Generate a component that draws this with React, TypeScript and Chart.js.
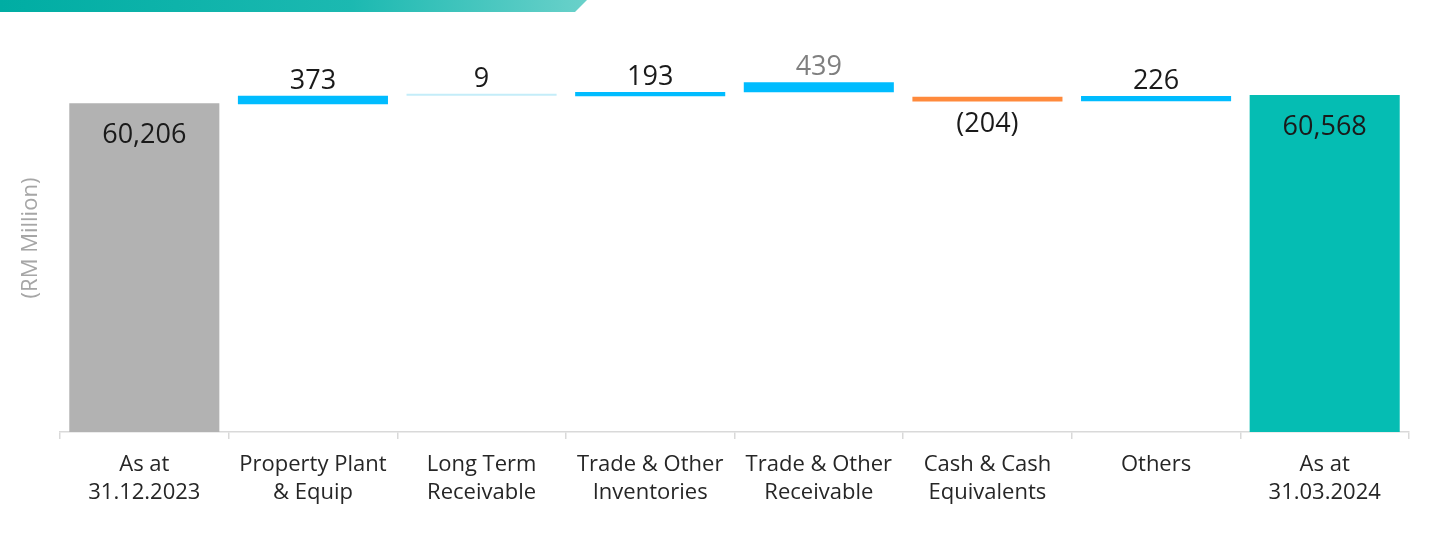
import React, { useEffect, useRef } from "react";
import { Chart, registerables } from "chart.js";

Chart.register(...registerables);

const categories: string[][] = [
  ["As at", "31.12.2023"],
  ["Property Plant", "& Equip"],
  ["Long Term", "Receivable"],
  ["Trade & Other", "Inventories"],
  ["Trade & Other", "Receivable"],
  ["Cash & Cash", "Equivalents"],
  ["Others"],
  ["As at", "31.03.2024"],
];

// floating bar ranges [low, high] in RM Million, as drawn in the picture
const barLow: number[] = [45870, 60165, 60530, 60510, 60684, 60288, 60300, 45870];
const barHigh: number[] = [60206, 60538, 60539, 60703, 61123, 60492, 60526, 60568];
const valueLabels: string[] = ["60,206", "373", "9", "193", "439", "(204)", "226", "60,568"];
const labelKind: string[] = ["inside", "above", "above", "above", "above", "below", "above", "inside"];
const barColors: string[] = ["#b2b2b2", "#00bcff", "#c4edf9", "#00bcff", "#00bcff", "#ff8a3c", "#00bcff", "#05bdb3"];
const labelColors: string[] = ["#1a1a1a", "#1a1a1a", "#1a1a1a", "#1a1a1a", "#7f7f7f", "#1a1a1a", "#1a1a1a", "#1a1a1a"];

const Y_MIN = 45870;
const Y_MAX = 62966;
const FONT = "'Open Sans', sans-serif";

const labelPlugin = {
  id: "valueLabels",
  afterDatasetsDraw(chart: any) {
    const ctx = chart.ctx;
    const meta = chart.getDatasetMeta(0);
    ctx.save();
    ctx.font = `27px ${FONT}`;
    ctx.textAlign = "center";
    meta.data.forEach((bar: any, i: number) => {
      const top = Math.min(bar.y, bar.base);
      const bottom = Math.max(bar.y, bar.base);
      ctx.fillStyle = labelColors[i];
      if (labelKind[i] === "inside") {
        ctx.textBaseline = "middle";
        ctx.fillText(valueLabels[i], bar.x, top + 32);
      } else if (labelKind[i] === "above") {
        ctx.textBaseline = "bottom";
        ctx.fillText(valueLabels[i], bar.x, top - 1);
      } else {
        ctx.textBaseline = "top";
        ctx.fillText(valueLabels[i], bar.x, bottom + 9);
      }
    });
    // y axis title
    ctx.fillStyle = "#a6a6a6";
    ctx.font = `22px ${FONT}`;
    ctx.textAlign = "center";
    ctx.textBaseline = "middle";
    ctx.translate(31, 238);
    ctx.rotate(-Math.PI / 2);
    ctx.fillText("(RM Million)", 0, 0);
    ctx.restore();
  },
};

export default function App() {
  const ref = useRef<HTMLCanvasElement>(null);
  useEffect(() => {
    document.body.style.margin = "0";
    const chart = new Chart(ref.current as HTMLCanvasElement, {
      type: "bar",
      data: {
        labels: categories,
        datasets: [
          {
            data: barLow.map((lo, i) => [lo, barHigh[i]]) as any,
            backgroundColor: barColors,
            borderWidth: 0,
            barPercentage: 0.89,
            categoryPercentage: 1,
            minBarLength: 2,
          },
        ],
      },
      options: {
        animation: false,
        responsive: false,
        maintainAspectRatio: false,
        layout: { padding: { left: 60, right: 31, top: 40, bottom: 0 } },
        plugins: { legend: { display: false }, tooltip: { enabled: false } },
        scales: {
          x: {
            grid: {
              offset: true,
              drawOnChartArea: false,
              drawTicks: true,
              tickLength: 7,
              color: "#d9d9d9",
              lineWidth: 1.5,
            },
            border: { color: "#d9d9d9", width: 1.5 },
            ticks: {
              color: "#262626",
              font: { family: FONT, size: 22, lineHeight: 1.25 },
              padding: 12,
              maxRotation: 0,
              autoSkip: false,
            },
            afterFit: (scale: any) => {
              scale.height = 112;
            },
          },
          y: {
            display: false,
            min: Y_MIN,
            max: Y_MAX,
          },
        },
      },
      plugins: [labelPlugin],
    });
    return () => chart.destroy();
  }, []);

  return (
    <div style={{ position: "relative", width: 1440, height: 544, background: "#fff" }}>
      <div
        style={{
          position: "absolute",
          left: 0,
          top: 0,
          width: 587,
          height: 12,
          background: "linear-gradient(90deg, #00ada3 0%, #1cb9b1 60%, #6ad1ca 100%)",
          clipPath: "polygon(0 0, 587px 0, 575px 12px, 0 12px)",
        }}
      />
      <canvas ref={ref} width={1440} height={544} style={{ position: "absolute", left: 0, top: 0 }} />
    </div>
  );
}
